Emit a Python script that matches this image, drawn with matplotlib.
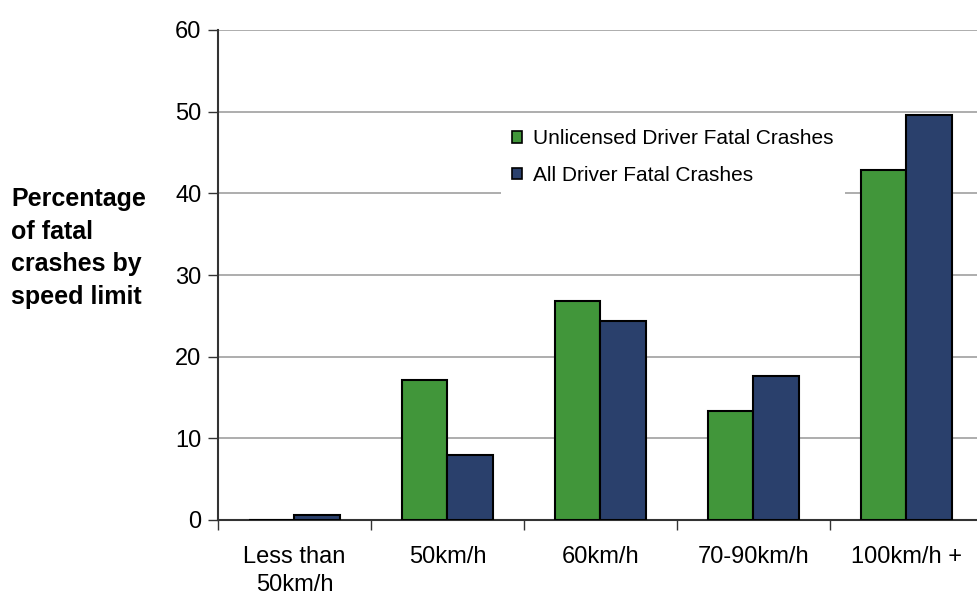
import matplotlib
matplotlib.use("Agg")

import matplotlib.pyplot as plt
import numpy as np

plt.rcParams['font.family'] = ['Liberation Sans', 'DejaVu Sans']

# data
categories = ["Less than\n50km/h", "50km/h", "60km/h", "70-90km/h", "100km/h +"]
unlicensed = [0.0, 17.1, 26.8, 13.3, 42.8]
all_drivers = [0.6, 7.9, 24.4, 17.6, 49.6]
series_names = ["Unlicensed Driver Fatal Crashes", "All Driver Fatal Crashes"]

GREEN = "#41963a"
NAVY = "#2a406c"

fig = plt.figure(figsize=(9.78, 5.95), dpi=100)
# axes runs slightly past the right edge, as in the original
ax = fig.add_axes([218 / 978, 75 / 595, 765 / 978, 490 / 595])

x = np.arange(len(categories))
w = 0.295
ax.bar(x - w / 2, unlicensed, w, color=GREEN, edgecolor="black", linewidth=1.5,
       label=series_names[0], zorder=3)
ax.bar(x + w / 2, all_drivers, w, color=NAVY, edgecolor="black", linewidth=1.5,
       label=series_names[1], zorder=3)

ax.set_xlim(-0.5, len(categories) - 0.5)
ax.set_ylim(0, 60)
ax.set_yticks(np.arange(0, 61, 10))
ax.yaxis.grid(True, color="#a0a0a0", linewidth=1.2, zorder=0)
ax.set_axisbelow(True)

ax.set_xticks(x)
ax.set_xticklabels(categories, fontsize=17, linespacing=1.35)
ax.set_xticks(np.arange(-0.5, len(categories), 1), minor=True)
ax.tick_params(axis="x", which="major", length=0, pad=19)
ax.tick_params(axis="x", which="minor", length=7, width=1, color="#333333", direction="out")
ax.tick_params(axis="y", labelsize=17, length=7, width=1, color="#333333", pad=5)

for s in ["top", "right"]:
    ax.spines[s].set_visible(False)
ax.spines["left"].set_color("#333333")
ax.spines["left"].set_linewidth(1.5)
ax.spines["bottom"].set_color("#333333")
ax.spines["bottom"].set_linewidth(1.5)

fig.text(11 / 978, 1 - 248 / 595, "Percentage\nof fatal\ncrashes by\nspeed limit",
         fontsize=18, fontweight="bold", ha="left", va="center", linespacing=1.45)

leg = ax.legend(loc="upper left", bbox_to_anchor=(501 / 978, 1 - 118 / 595),
                bbox_transform=fig.transFigure, borderaxespad=0, fontsize=15,
                frameon=True, fancybox=False, framealpha=1, edgecolor="none",
                handlelength=0.45, handleheight=0.45, handletextpad=0.55,
                labelspacing=0.85, borderpad=0.55)
leg.set_zorder(5)
for h in leg.legend_handles:
    h.set_linewidth(1.2)

fig.savefig("out.png", dpi=100)
